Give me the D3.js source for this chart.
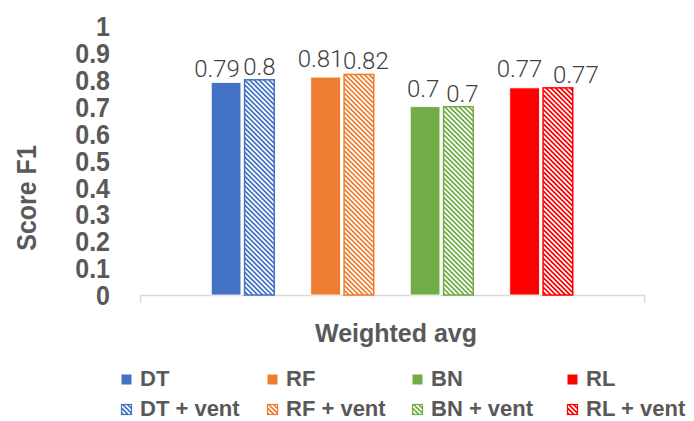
<!DOCTYPE html>
<html><head><meta charset="utf-8">
<script src="https://cdn.jsdelivr.net/npm/d3@7"></script>
<style>
html,body{margin:0;padding:0;background:#fff;}
svg{display:block;}
</style></head>
<body>
<svg id="chart" width="694" height="421"></svg>
<script>
// ---- data ----
const category = ["Weighted avg"];
const models = ["DT", "RF", "BN", "RL"];
const variants = ["base", "vent"];
const baseValues = [0.79, 0.81, 0.70, 0.77];
const ventValues = [0.80, 0.82, 0.70, 0.77];
const colors = ["#4472C4", "#ED7D31", "#70AD47", "#FF0000"];
const yTicks = [0, 0.1, 0.2, 0.3, 0.4, 0.5, 0.6, 0.7, 0.8, 0.9, 1];
const legendLabels = ["DT", "RF", "BN", "RL", "DT + vent", "RF + vent", "BN + vent", "RL + vent"];
// label nudges (layout only, mimicking Excel label placement)
const labelNudgeBase = [[-9, 0], [-5, -5], [-2, -5], [-5, -6]];
const labelNudgeVent = [[0, 0], [7, 0], [4, 0], [18, 0]];

const svg = d3.select("#chart");
const axisY0 = 295, axisY1 = 26;
const y = d3.scaleLinear().domain([0, 1]).range([axisY0, axisY1]);
const xCat = d3.scaleBand().domain(category).range([140, 644]);
const xModel = d3.scaleBand().domain(models).range([193, 591]).paddingInner(0.367).paddingOuter(0.1835);
const xVar = d3.scaleBand().domain(variants).range([0, xModel.bandwidth()]).paddingInner(0.11);

// patterns
const defs = svg.append("defs");
models.forEach((m, i) => {
  const p = defs.append("pattern").attr("id", "hatch-" + m)
    .attr("patternUnits", "userSpaceOnUse").attr("width", 3.4).attr("height", 3.4)
    .attr("patternTransform", "rotate(-45)");
  p.append("rect").attr("width", 3.4).attr("height", 3.4).attr("fill", "#fff");
  p.append("rect").attr("x", 0).attr("width", 1.7).attr("height", 3.4).attr("fill", colors[i]);
});

// y-axis tick labels
const yAxis = d3.axisLeft(y).tickValues(yTicks).tickSize(0).tickPadding(30)
  .tickFormat(d => d3.format("")(+d.toFixed(1)));
const gy = svg.append("g").attr("transform", "translate(140,0)").call(yAxis);
gy.select(".domain").remove();
gy.selectAll("text").attr("font-family", "Liberation Sans, Arial, sans-serif")
  .attr("font-size", 25).attr("font-weight", "bold").attr("fill", "#595959")
  .attr("dy", "0.36em").attr("transform", "scale(1,1.07)");

// x axis
const xAxis = d3.axisBottom(xCat).tickSizeInner(0).tickSizeOuter(8).tickPadding(0);
const gx = svg.append("g").attr("transform", `translate(0,${axisY0})`).call(xAxis);
gx.select(".domain").attr("stroke", "#d9d9d9").attr("stroke-width", 1.5);
gx.selectAll("text").attr("font-family", "Liberation Sans, Arial, sans-serif")
  .attr("font-size", 25).attr("font-weight", "bold").attr("fill", "#595959")
  .attr("y", 0).attr("dy", 0).attr("dx", 4).attr("transform", "translate(0,47) scale(1,1.06)");

// bars
const rows = [];
models.forEach((m, i) => {
  rows.push({model: m, i, variant: "base", value: baseValues[i], nudge: labelNudgeBase[i]});
  rows.push({model: m, i, variant: "vent", value: ventValues[i], nudge: labelNudgeVent[i]});
});
const barX = d => xModel(d.model) + xVar(d.variant);
svg.append("g").selectAll("rect").data(rows).join("rect")
  .attr("x", barX)
  .attr("y", d => y(d.value))
  .attr("width", xVar.bandwidth())
  .attr("height", d => y(0) - y(d.value))
  .attr("fill", d => d.variant === "base" ? colors[d.i] : `url(#hatch-${d.model})`)
  .attr("stroke", d => d.variant === "base" ? "#ffffff" : colors[d.i])
  .attr("stroke-width", d => d.variant === "base" ? 0.8 : 1.5);

// value labels
svg.append("g").selectAll("text").data(rows).join("text")
  .attr("x", d => barX(d) + xVar.bandwidth() / 2 + d.nudge[0])
  .attr("y", d => y(d.value) - 5 + d.nudge[1])
  .attr("text-anchor", "middle")
  .attr("font-family", "Roboto, sans-serif").attr("font-weight", 300)
  .attr("font-size", 24).attr("fill", "#404040")
  .text(d => d3.format("")(d.value));

// legend
const legendCols = [121, 267, 412, 567];
const legendRows = [374, 404];
const lg = svg.append("g");
legendLabels.forEach((lab, k) => {
  const col = k % 4, row = Math.floor(k / 4);
  const g = lg.append("g").attr("transform", `translate(${legendCols[col]},${legendRows[row]})`);
  g.append("rect").attr("x", 0.5).attr("y", 0.5).attr("width", 10).attr("height", 10)
    .attr("fill", row === 0 ? colors[col] : `url(#hatch-${models[col]})`)
    .attr("stroke", row === 0 ? "none" : colors[col]).attr("stroke-width", 1.2);
  g.append("text").attr("x", 19).attr("y", row === 0 ? 12 : 11.5)
    .attr("font-family", "Liberation Sans, Arial, sans-serif").attr("font-weight", "bold")
    .attr("font-size", 22).attr("fill", "#595959").text(lab);
});

// y title
svg.append("text").attr("transform", "translate(35.5,198) rotate(-90) scale(1,1.12)")
  .attr("text-anchor", "middle")
  .attr("font-family", "Liberation Sans, Arial, sans-serif").attr("font-weight", "bold")
  .attr("font-size", 25).attr("fill", "#595959").text("Score F1");
</script>
</body></html>
